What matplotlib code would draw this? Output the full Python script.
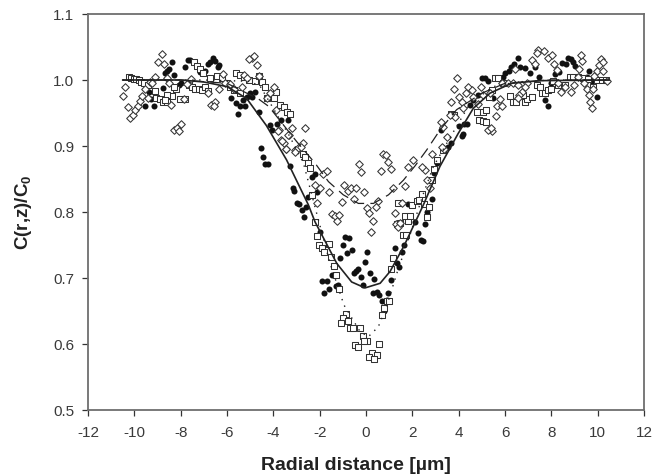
import matplotlib
matplotlib.use("Agg")
import numpy as np
import matplotlib.pyplot as plt

plt.rcParams["font.family"] = ["Liberation Sans", "DejaVu Sans"]
plt.rcParams["mathtext.fontset"] = "custom"
plt.rcParams["mathtext.rm"] = "Liberation Sans:bold"
plt.rcParams["mathtext.default"] = "rm"
plt.rcParams["axes.unicode_minus"] = False

circle_pts = [
    (-8.37,1.027),(-8.59,1.014),(-8.52,1.016),(-8.66,1.011),(-8.27,1.007),(-8.76,0.988),(-9.35,0.982),(-9.27,0.971),
    (-9.55,0.961),(-9.17,0.960),(-8.09,0.993),(-7.99,0.995),(-7.80,1.019),(-7.70,1.030),(-7.58,1.030),(-6.60,1.033),
    (-6.50,1.029),(-6.72,1.027),(-6.83,1.024),(-6.33,1.023),(-6.40,1.019),(-7.15,1.012),(-6.94,1.014),(-5.81,0.972),
    (-5.61,0.965),(-5.32,0.969),(-5.44,0.960),(-5.24,0.961),(-5.53,0.948),(-5.14,0.975),(-4.92,0.975),(-4.78,0.982),
    (-4.99,0.980),(-4.63,0.951),(-4.16,0.932),(-4.06,0.924),(-3.84,0.934),(-3.67,0.939),(-3.38,0.939),(-4.55,0.897),
    (-4.45,0.884),(-4.35,0.873),(-4.24,0.873),(-3.29,0.870),(-3.16,0.837),(-3.11,0.832),(-2.96,0.814),(-2.88,0.812),
    (-2.77,0.803),(-2.59,0.807),(-2.67,0.793),(-2.49,0.822),(-2.34,0.853),(-2.20,0.858),(-2.10,0.831),(-1.98,0.769),
    (-0.90,0.762),(-0.72,0.761),(-1.00,0.750),(-0.80,0.738),(-0.62,0.742),(-1.12,0.730),(0.06,0.740),(-0.03,0.725),
    (-0.33,0.713),(-0.43,0.711),(-0.52,0.708),(-0.23,0.702),(0.17,0.708),(0.36,0.698),(-0.11,0.690),(-1.48,0.705),
    (-1.88,0.696),(-1.70,0.695),(-1.59,0.683),(-1.80,0.678),(-1.29,0.688),(-1.19,0.689),(0.29,0.677),(0.49,0.679),
    (0.58,0.674),(0.97,0.678),(1.07,0.697),(0.68,0.665),(0.78,0.650),(0.89,0.667),(1.44,0.716),(1.33,0.722),
    (1.25,0.746),(1.56,0.739),(1.66,0.750),(1.73,0.765),(2.23,0.768),(2.36,0.758),(2.45,0.756),(2.12,0.785),
    (2.53,0.782),(2.84,0.819),(2.62,0.800),(1.83,0.812),(2.94,0.859),(3.05,0.874),(6.57,1.034),(6.38,1.024),
    (6.28,1.019),(6.18,1.013),(5.99,1.010),(5.92,1.005),(6.64,1.020),(6.86,1.018),(7.07,1.011),(7.29,1.019),
    (7.45,1.005),(4.99,1.003),(5.13,1.003),(5.28,0.999),(5.49,0.972),(4.84,0.977),(4.63,0.970),(4.49,0.962),
    (4.34,0.934),(4.23,0.933),(4.01,0.931),(4.20,0.918),(4.13,0.915),(3.69,0.904),(3.55,0.898),(3.25,0.924),
    (8.15,1.009),(8.34,1.012),(8.44,1.026),(8.63,1.024),(8.73,1.034),(8.83,1.032),(8.95,1.028),(9.02,1.021),
    (7.97,0.995),(7.74,0.969),(7.84,0.961),(9.62,1.013),(9.52,1.004),(9.74,0.999),(9.99,0.975),
]

square_pts = [
    (-10.24,1.004),(-10.14,1.003),(-10.03,1.002),(-9.93,1.001),(-9.81,1.000),(-9.71,0.997),(-9.59,0.996),(-9.42,0.992),
    (-9.09,0.984),(-9.05,0.972),(-8.88,0.971),(-8.76,0.966),(-8.59,0.967),(-8.37,0.976),(-8.59,0.977),(-8.69,0.970),
    (-8.19,0.986),(-8.27,0.990),(-8.01,0.971),(-7.80,0.971),(-7.65,0.992),(-7.51,0.990),(-7.37,0.987),(-7.22,0.986),
    (-7.08,0.985),(-6.94,0.989),(-6.83,0.984),(-6.72,1.003),(-6.43,1.006),(-7.44,1.028),(-7.29,1.021),(-7.15,1.016),
    (-7.04,1.010),(-6.22,1.003),(-6.00,0.995),(-5.86,0.989),(-5.71,0.985),(-5.42,0.981),(-5.60,1.010),(-5.45,1.008),
    (-5.28,1.004),(-5.06,1.000),(-4.78,0.999),(-4.48,0.997),(-4.63,1.006),(-4.35,0.990),(-3.87,0.982),(-3.99,0.972),
    (-4.27,0.972),(-3.73,0.962),(-3.55,0.959),(-3.41,0.952),(-3.29,0.949),(-2.73,0.888),(-2.63,0.884),(-2.52,0.875),
    (-2.41,0.866),(-2.31,0.826),(-2.20,0.785),(-2.10,0.763),(-2.01,0.750),(-1.88,0.745),(-1.80,0.739),(-1.61,0.752),
    (-1.51,0.732),(-1.38,0.718),(-1.29,0.705),(-1.18,0.683),(-0.87,0.646),(-1.00,0.639),(-0.77,0.635),(-1.08,0.632),
    (-0.69,0.624),(-0.57,0.624),(-0.26,0.624),(-0.15,0.612),(0.03,0.605),(-0.07,0.604),(-0.46,0.599),(-0.36,0.595),
    (0.56,0.600),(0.26,0.587),(0.46,0.584),(0.15,0.580),(0.36,0.578),(0.68,0.644),(0.78,0.655),(0.89,0.665),
    (0.99,0.665),(1.08,0.714),(1.18,0.730),(1.61,0.765),(1.71,0.765),(1.33,0.782),(1.47,0.784),(1.80,0.786),
    (1.70,0.794),(1.90,0.794),(1.40,0.813),(1.97,0.811),(2.19,0.816),(2.30,0.818),(2.51,0.812),(2.72,0.807),
    (2.64,0.793),(2.42,0.828),(2.84,0.849),(2.94,0.865),(3.05,0.879),(3.34,0.894),(3.69,0.949),(3.79,0.947),
    (4.77,0.951),(5.06,0.951),(5.20,0.955),(4.89,0.939),(5.03,0.938),(5.16,0.937),(5.32,0.975),(5.42,0.985),
    (5.56,1.003),(5.71,1.003),(5.92,0.995),(6.21,0.976),(6.36,0.966),(6.47,0.966),(6.86,0.967),(6.96,0.971),
    (7.15,0.975),(6.79,0.977),(7.36,0.992),(7.51,0.989),(7.58,0.981),(7.72,0.980),(7.87,0.985),(7.97,0.987),
    (8.08,0.999),(8.30,0.992),(8.59,0.992),(8.80,1.004),(8.95,1.004),(9.16,1.004),(9.38,1.003),(9.59,1.001),
    (9.81,0.990),(9.95,1.000),(10.17,1.000),(10.38,1.000),
]

diamond_pts = [
    (-8.81,1.039),(-8.99,1.027),(-8.71,1.025),(-10.39,0.989),(-10.50,0.976),(-10.29,0.959),(-10.17,0.942),(-10.06,0.947),
    (-9.96,0.954),(-9.84,0.961),(-9.74,0.968),(-9.65,0.976),(-9.42,0.973),(-9.54,0.987),(-9.31,0.997),(-9.12,1.005),
    (-9.23,0.995),(-8.59,1.003),(-8.49,0.995),(-8.40,0.962),(-8.30,0.924),(-8.16,0.928),(-7.97,0.933),(-8.09,0.922),
    (-7.87,0.971),(-7.56,1.001),(-7.73,0.994),(-6.83,0.980),(-6.68,0.962),(-6.50,0.966),(-6.58,0.961),(-6.19,1.009),
    (-6.36,0.987),(-6.07,0.996),(-5.88,0.994),(-5.71,0.987),(-5.35,0.990),(-4.92,1.034),(-5.04,1.032),(-4.71,1.023),
    (-4.85,1.036),(-5.28,1.008),(-5.14,1.003),(-4.63,1.006),(-3.99,0.990),(-4.16,0.981),(-4.27,0.972),(-3.88,0.955),
    (-3.77,0.924),(-3.67,0.909),(-3.55,0.904),(-3.44,0.895),(-3.34,0.917),(-3.21,0.927),(-2.63,0.928),(-3.35,0.917),
    (-3.07,0.894),(-2.92,0.897),(-2.71,0.904),(-2.82,0.898),(-3.64,0.907),(-3.47,0.896),(-3.79,0.923),(-3.06,0.891),
    (-2.10,0.813),(-2.20,0.841),(-1.98,0.837),(-1.84,0.858),(-1.67,0.862),(-1.58,0.830),(-0.95,0.841),(-0.76,0.832),
    (-0.66,0.836),(-0.43,0.836),(-0.08,0.831),(-1.05,0.815),(-0.52,0.820),(-0.31,0.872),(-0.20,0.860),(0.65,0.862),
    (1.07,0.865),(0.75,0.888),(0.87,0.886),(0.95,0.876),(1.82,0.868),(2.02,0.879),(1.18,0.837),(1.69,0.840),
    (0.53,0.816),(0.03,0.806),(0.43,0.808),(0.12,0.798),(0.32,0.786),(0.22,0.769),(1.27,0.798),(-1.48,0.797),
    (-1.34,0.794),(-1.15,0.796),(-1.25,0.787),(1.28,0.782),(1.37,0.777),(1.47,0.784),(1.57,0.813),(2.77,0.837),
    (2.65,0.849),(2.53,0.863),(2.43,0.868),(2.85,0.888),(3.91,1.003),(3.79,0.986),(3.69,0.966),(4.01,0.975),
    (4.13,0.967),(4.41,0.990),(4.59,0.985),(4.31,0.980),(4.63,0.975),(4.84,0.964),(4.20,0.957),(3.84,0.944),
    (3.62,0.947),(3.31,0.929),(3.22,0.937),(3.48,0.914),(3.36,0.895),(3.26,0.899),(4.95,0.990),(5.06,0.977),
    (5.35,0.980),(5.78,0.971),(5.66,0.961),(5.89,0.961),(5.59,0.945),(5.46,0.923),(5.28,0.924),(5.38,0.927),
    (5.85,0.996),(6.14,0.995),(6.33,0.996),(6.57,0.992),(6.96,0.995),(6.86,0.989),(6.72,0.982),(6.61,0.977),
    (6.57,0.972),(6.43,1.016),(7.15,1.031),(7.29,1.025),(7.43,1.046),(7.36,1.041),(7.68,1.044),(7.87,1.033),
    (8.01,1.038),(8.11,1.024),(8.23,1.015),(8.30,0.996),(8.40,0.982),(8.59,0.989),(8.83,0.982),(8.97,0.992),
    (9.20,1.016),(9.31,1.029),(9.26,1.038),(9.16,1.005),(9.41,0.995),(9.52,0.987),(9.62,0.977),(9.66,0.966),
    (9.74,0.958),(9.81,0.987),(9.95,1.014),(10.07,1.023),(10.15,1.032),(10.24,1.027),(10.24,1.014),(9.84,1.006),
    (10.41,0.999),
]

solid_x = [-10.5,-8.0,-7.0,-6.0,-5.15,-4.3,-3.43,-2.49,-2.2,-1.26,-0.62,-0.04,0.61,1.04,1.66,2.48,3.19,3.98,4.63,5.35,6.28,7.5,10.5]
solid_y = [1.0,1.0,0.997,0.990,0.972,0.931,0.879,0.811,0.785,0.722,0.694,0.685,0.692,0.710,0.750,0.811,0.869,0.919,0.957,0.980,0.995,0.999,1.0]

dotted_x = [-10.5,-7.0,-5.0,-4.56,-4.0,-3.3,-2.7,-2.13,-1.55,-0.95,-0.26,0.10,0.53,0.89,1.33,1.97,2.48,2.91,3.5,4.5,5.5,6.5,8.0,10.5]
dotted_y = [1.0,1.0,0.998,0.990,0.957,0.915,0.874,0.798,0.722,0.659,0.619,0.611,0.626,0.657,0.707,0.773,0.828,0.869,0.905,0.965,0.990,0.997,1.0,1.0]

dashed_x = [-10.5,-8.0,-6.0,-4.63,-4.2,-3.0,-2.2,-1.62,-0.98,-0.33,0.32,0.97,1.61,2.12,2.62,3.19,3.91,5.0,6.0,8.0,10.5]
dashed_y = [1.0,1.0,0.995,0.971,0.960,0.907,0.874,0.846,0.826,0.813,0.813,0.826,0.848,0.870,0.894,0.924,0.955,0.980,0.995,1.0,1.0]

x_ticks = list(range(-12, 13, 2))
y_ticks = [0.5, 0.6, 0.7, 0.8, 0.9, 1.0, 1.1]
y_tick_labels = ["0.5", "0.6", "0.7", "0.8", "0.9", "1.0", "1.1"]

axis_color = "#6e6e6e"
text_color = "#3a3a3a"
label_color = "#222222"
line_color = "#222222"

fig = plt.figure(figsize=(6.64, 4.76), dpi=100)
ax = fig.add_axes([88 / 664, 1 - 410 / 476, (644 - 88) / 664, (410 - 14) / 476])

cx, cy = np.array(circle_pts).T
sx, sy = np.array(square_pts).T
dx, dy = np.array(diamond_pts).T

ax.scatter(cx, cy, s=19, marker="o", color="#111111", linewidths=0, zorder=2)
ax.scatter(sx, sy, s=16, marker="s", facecolor="white", edgecolor="#333333", linewidths=0.75, zorder=3)
ax.scatter(dx, dy, s=15, marker="D", facecolor="white", edgecolor="#333333", linewidths=0.75, zorder=4)

ax.plot(solid_x, solid_y, color=line_color, lw=1.2, zorder=5)
ax.plot(dotted_x, dotted_y, color=line_color, lw=1.0, linestyle=(0, (1, 4)), zorder=5)
ax.plot(dashed_x, dashed_y, color=line_color, lw=0.9, linestyle=(0, (9, 5)), zorder=5)

ax.set_xlim(-12, 12)
ax.set_ylim(0.5, 1.1)
ax.set_xticks(x_ticks)
ax.set_yticks(y_ticks)
ax.set_yticklabels(y_tick_labels)
ax.tick_params(length=4.3, width=0.9, color="#333333", labelsize=11, labelcolor=text_color)
ax.tick_params(axis="x", pad=7)
ax.tick_params(axis="y", pad=5.5)

for spine in ax.spines.values():
    spine.set_color(axis_color)
    spine.set_linewidth(1.3)

ax.set_xlabel("Radial distance [µm]", fontsize=14, fontweight="bold", color=label_color)
ax.xaxis.set_label_coords((356 - 88) / 556, -(466 - 410) / 396, transform=ax.transAxes)
ax.xaxis.label.set_verticalalignment("center")
ax.set_ylabel(r"C(r,z)/C$_{0}$", fontsize=13.5, fontweight="bold", color=label_color)
ax.yaxis.set_label_coords(-(88 - 23) / 556, 0.5, transform=ax.transAxes)
ax.yaxis.label.set_verticalalignment("center")

fig.savefig("out.png", dpi=100)
